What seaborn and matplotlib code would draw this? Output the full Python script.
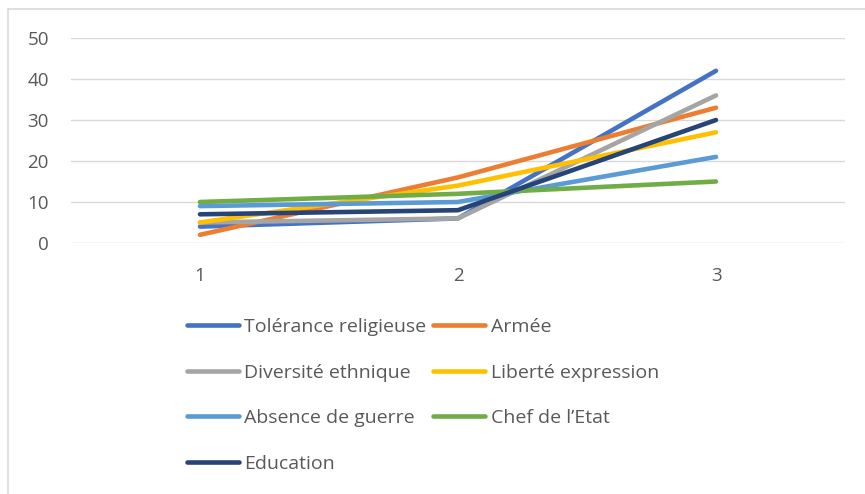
import matplotlib
matplotlib.use("Agg")
import matplotlib.pyplot as plt
from matplotlib.lines import Line2D
import seaborn as sns
import pandas as pd

categories = [1, 2, 3]
series_names = [
    "Tolérance religieuse",
    "Armée",
    "Diversité ethnique",
    "Liberté expression",
    "Absence de guerre",
    "Chef de l’Etat",
    "Education",
]
tolerance = [4, 6, 42]
armee = [2, 16, 33]
diversite = [5, 6, 36]
liberte = [5, 14, 27]
absence = [9, 10, 21]
chef = [10, 12, 15]
education = [7, 8, 30]
y_ticks = [0, 10, 20, 30, 40, 50]

colors = ["#4472C4", "#ED7D31", "#A5A5A5", "#FFC000", "#5B9BD5", "#70AD47", "#264478"]

values = [tolerance, armee, diversite, liberte, absence, chef, education]
rows = []
for name, vals in zip(series_names, values):
    for pos, (c, v) in enumerate(zip(categories, vals)):
        rows.append({"pos": pos, "cat": c, "value": v, "serie": name})
df = pd.DataFrame(rows)

sns.set_theme(style="white")
plt.rcParams["font.family"] = ["Open Sans", "DejaVu Sans"]
text_color = "#595959"
lw = 3.3

fig = plt.figure(figsize=(8.65, 4.94), dpi=100)
ax = fig.add_axes([71 / 865, 1 - 243 / 494, (845 - 71) / 865, (243 - 38) / 494])

sns.lineplot(data=df, x="pos", y="value", hue="serie", hue_order=series_names,
             palette=colors, linewidth=lw, ax=ax, legend=False,
             solid_capstyle="round")

ax.set_xlim(-0.5, 2.5)
ax.set_ylim(0, 50)
ax.set_yticks(y_ticks)
ax.set_yticklabels([str(t) for t in y_ticks])
ax.set_xticks(range(len(categories)))
ax.set_xticklabels([str(c) for c in categories])
ax.set_xlabel("")
ax.set_ylabel("")
for s in ax.spines.values():
    s.set_visible(False)
ax.yaxis.grid(True, color="#D9D9D9", linewidth=1.0)
ax.set_axisbelow(True)
ax.tick_params(axis="both", length=0, labelsize=13.5, colors=text_color)
ax.tick_params(axis="y", pad=16)
ax.tick_params(axis="x", pad=17)

# Legend: two columns, filled row by row
handles = [Line2D([0], [0], color=c, lw=lw, solid_capstyle="round") for c in colors]
order = [0, 2, 4, 6, 1, 3, 5]
leg = fig.legend([handles[i] for i in order], [series_names[i] for i in order],
                 ncol=2, loc="upper left", bbox_to_anchor=(187 / 865, 1 - 318 / 494),
                 frameon=False, fontsize=14, handlelength=2.65, handletextpad=0.3,
                 columnspacing=0.35, labelspacing=1.42, borderaxespad=0,
                 borderpad=0)
for t in leg.get_texts():
    t.set_color(text_color)

# Outer chart border (top and left edges)
fig.add_artist(Line2D([8 / 865, 1], [1 - 9 / 494, 1 - 9 / 494], color="#D9D9D9", lw=1.2,
                      transform=fig.transFigure))
fig.add_artist(Line2D([8 / 865, 8 / 865], [0, 1 - 9 / 494], color="#D9D9D9", lw=1.2,
                      transform=fig.transFigure))

fig.savefig("out.png", dpi=100, facecolor="white")
